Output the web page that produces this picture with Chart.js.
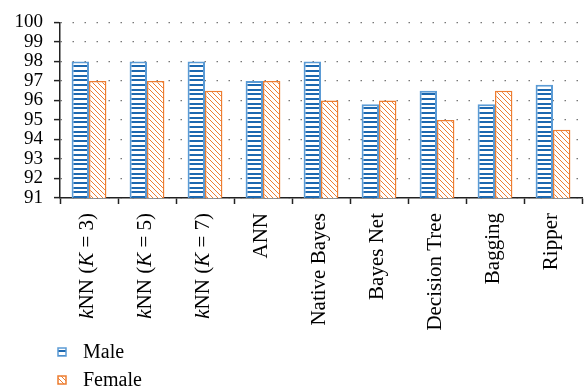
<!DOCTYPE html>
<html>
<head>
<meta charset="utf-8">
<script src="https://cdn.jsdelivr.net/npm/chart.js@4/dist/chart.umd.min.js"></script>
<style>
  html, body { margin: 0; padding: 0; background: #fff; }
  #wrap { width: 586px; height: 389px; }
</style>
</head>
<body>
<div id="wrap"><canvas id="chart" width="586" height="389"></canvas></div>
<script>
const categories = ["kNN (K = 3)", "kNN (K = 5)", "kNN (K = 7)", "ANN", "Native Bayes", "Bayes Net", "Decision Tree", "Bagging", "Ripper"];
const maleValues = [98, 98, 98, 97, 98, 95.8, 96.5, 95.8, 96.8];
const femaleValues = [97, 97, 96.5, 97, 96, 96, 95, 96.5, 94.5];
const yTicks = [91, 92, 93, 94, 95, 96, 97, 98, 99, 100];

const FONT = "'Liberation Serif', 'Times New Roman', serif";
const BLUE = "#1c68b0", BLUE_EDGE = "#5b9bd5";
const ORANGE = "#ed7d31";

// horizontal stripes for Male
function stripePattern(){
  const c = document.createElement("canvas");
  c.width = 8; c.height = 14;
  const g = c.getContext("2d");
  g.fillStyle = "#fff"; g.fillRect(0,0,8,14);
  g.fillStyle = BLUE;
  [0,5,9].forEach(y => g.fillRect(0,y,8,2));
  return g.createPattern(c, "repeat");
}

// "\" hatching for Female
function hatchPattern(){
  const c = document.createElement("canvas");
  c.width = 5; c.height = 5;
  const g = c.getContext("2d");
  g.fillStyle = "#fff"; g.fillRect(0,0,5,5);
  g.strokeStyle = ORANGE; g.lineWidth = 1;
  g.beginPath();
  g.moveTo(-1,-1); g.lineTo(6,6);
  g.moveTo(-1,4); g.lineTo(1,6);
  g.moveTo(4,-1); g.lineTo(6,1);
  g.stroke();
  return g.createPattern(c, "repeat");
}

const malePat = stripePattern();
const femalePat = hatchPattern();

// rotated category labels, "k" and "K" set in italics
const xLabels = {
  id: "xLabels",
  afterDraw(chart){
    const ctx = chart.ctx, xs = chart.scales.x, top = chart.chartArea.bottom + 15;
    ctx.save();
    ctx.fillStyle = "#000";
    ctx.textBaseline = "middle";
    ctx.textAlign = "left";
    categories.forEach((label, i) => {
      const parts = label.split(/(\bk(?=NN)|\bK\b)/).filter(s => s.length);
      const fontOf = s => (s === "k" || s === "K" ? "italic " : "") + "21px " + FONT;
      let total = 0;
      parts.forEach(p => { ctx.font = fontOf(p); total += ctx.measureText(p).width; });
      ctx.save();
      ctx.translate(xs.getPixelForTick(i) - 2, top);
      ctx.rotate(-Math.PI/2);
      let x = -total;
      parts.forEach(p => { ctx.font = fontOf(p); ctx.fillText(p, x, 0); x += ctx.measureText(p).width; });
      ctx.restore();
    });
    ctx.restore();
  }
};

// stacked legend under the labels
const stackedLegend = {
  id: "stackedLegend",
  afterDraw(chart){
    const ctx = chart.ctx;
    ctx.save();
    ctx.textBaseline = "middle";
    ctx.textAlign = "left";
    chart.data.datasets.forEach((ds, i) => {
      const y = 352 + i * 28;
      ctx.fillStyle = ds.backgroundColor;
      ctx.fillRect(58, y - 4, 8, 8);
      ctx.strokeStyle = ds.borderColor;
      ctx.lineWidth = 1.5;
      ctx.strokeRect(58, y - 4, 8, 8);
      ctx.fillStyle = "#000";
      ctx.font = "20px " + FONT;
      ctx.fillText(ds.label, 83, y + 1);
    });
    ctx.restore();
  }
};

new Chart(document.getElementById("chart"), {
  type: "bar",
  data: {
    labels: categories,
    datasets: [
      { label: "Male", data: maleValues, backgroundColor: malePat, borderColor: BLUE_EDGE, borderWidth: 2 },
      { label: "Female", data: femaleValues, backgroundColor: femalePat, borderColor: ORANGE, borderWidth: 1.5 }
    ]
  },
  options: {
    responsive: false,
    animation: false,
    layout: { padding: { top: 17, right: 4, left: 0, bottom: 0 } },
    datasets: { bar: { categoryPercentage: 0.6, barPercentage: 1.0 } },
    plugins: { legend: { display: false }, tooltip: { enabled: false } },
    scales: {
      x: {
        afterFit: s => { s.height = 191; },
        grid: { display: true, offset: true, drawOnChartArea: false, drawTicks: true, tickLength: 6, tickColor: "#222", tickWidth: 1.5 },
        border: { display: true, color: "#222", width: 1.5 },
        ticks: { display: false }
      },
      y: {
        min: 91, max: 100,
        afterFit: s => { s.width = 60; },
        afterBuildTicks: s => { s.ticks = yTicks.map(v => ({ value: v })); },
        grid: { color: "#777", lineWidth: 1.2, drawTicks: true, tickLength: 6, tickColor: "#222", tickWidth: 1.5, tickBorderDash: [] },
        border: { display: true, color: "#222", width: 1.5, dash: [1.5, 10.5] },
        ticks: { color: "#000", padding: 11, autoSkip: false, font: { family: FONT, size: 19 } }
      }
    }
  },
  plugins: [xLabels, stackedLegend]
});
</script>
</body>
</html>
